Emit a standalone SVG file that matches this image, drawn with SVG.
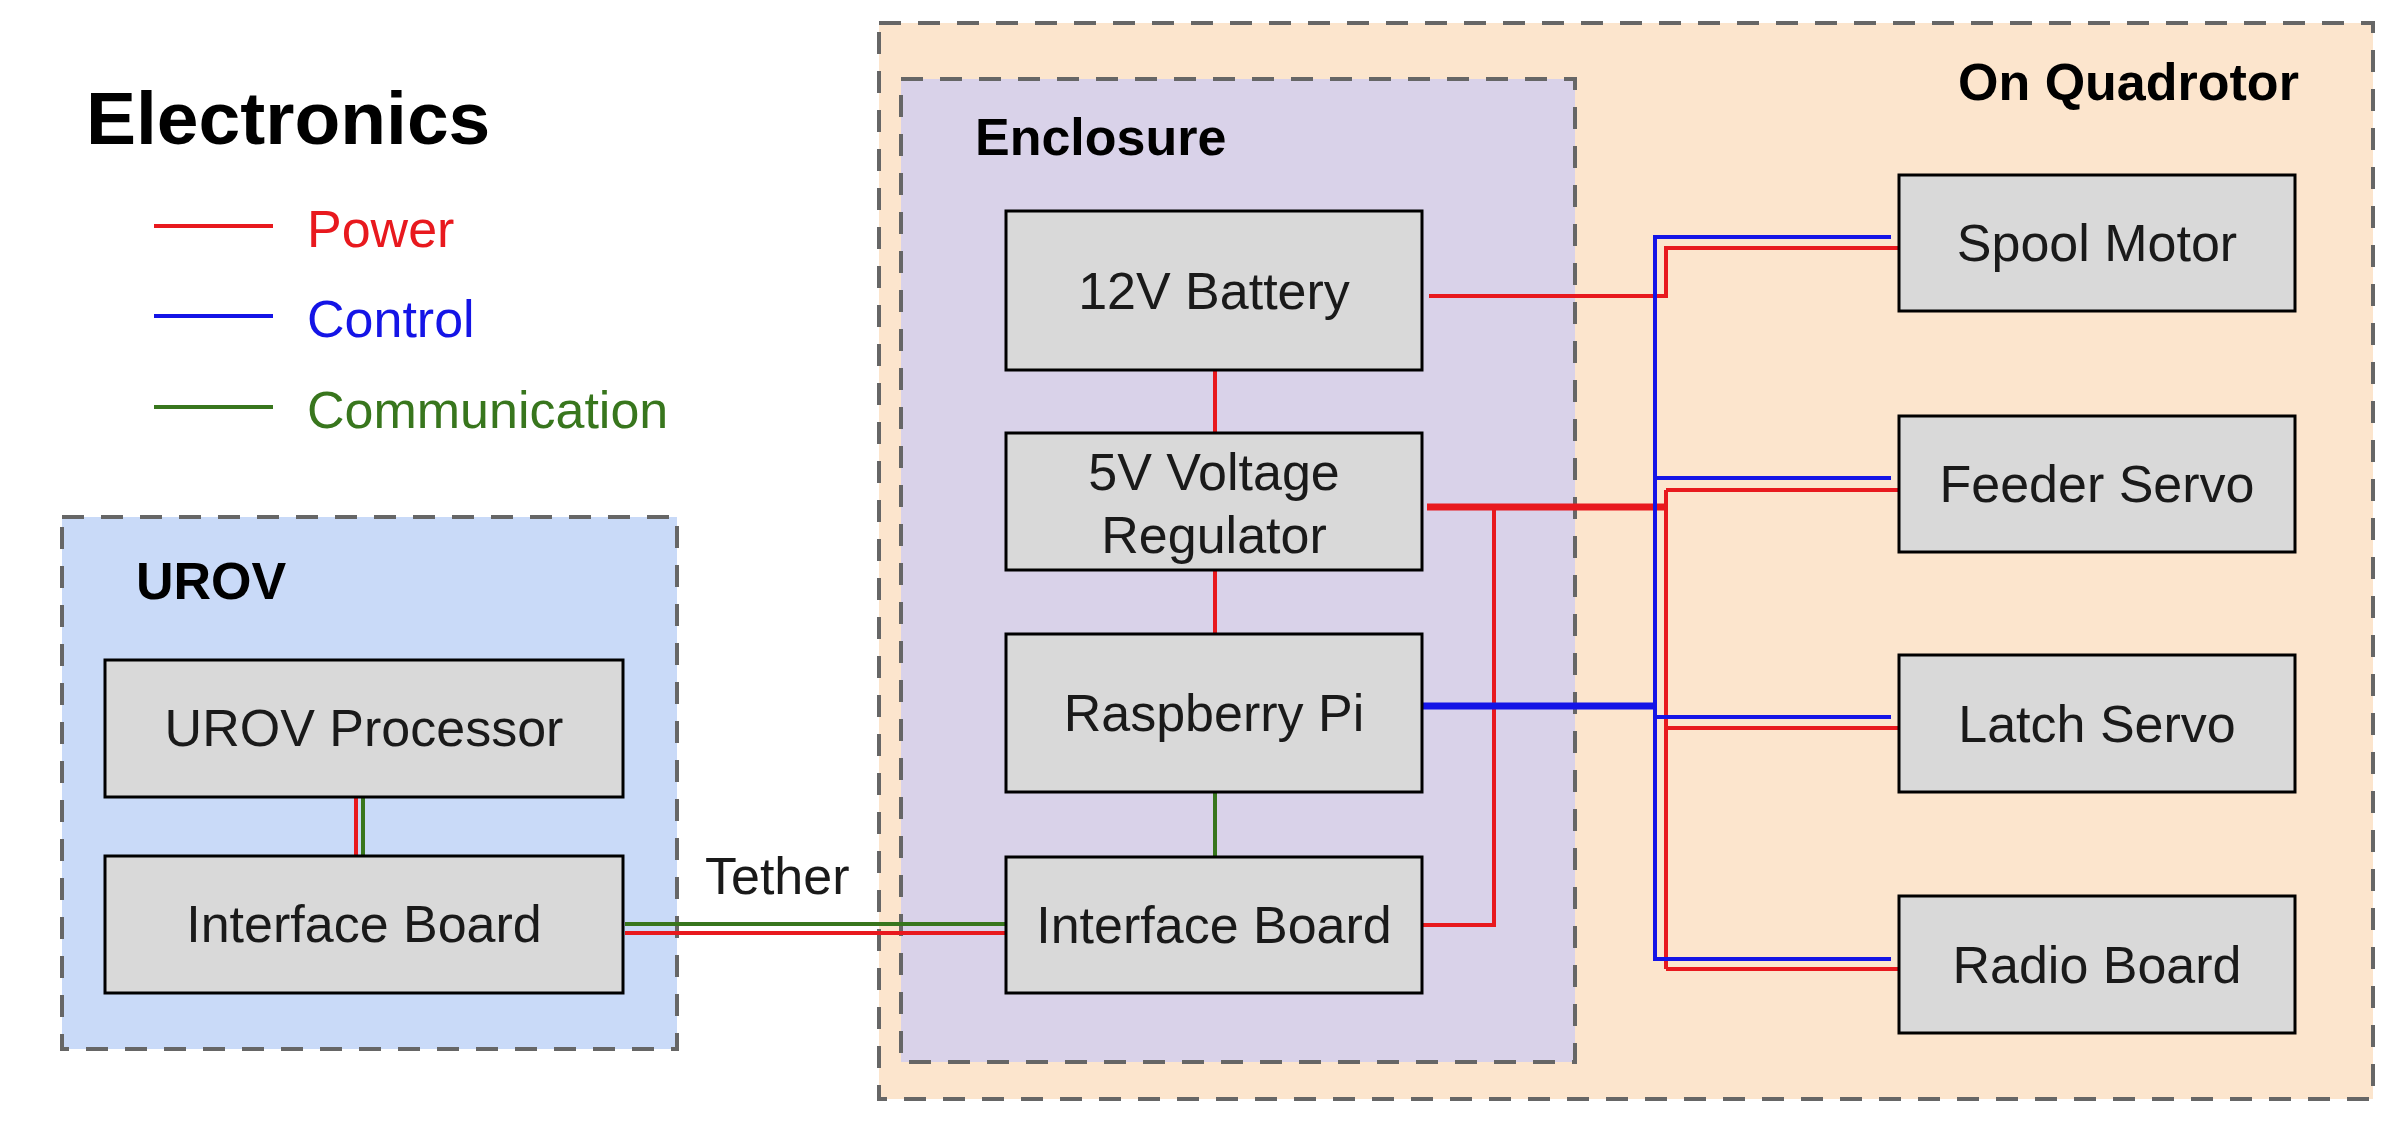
<svg xmlns="http://www.w3.org/2000/svg" width="2381" height="1123" viewBox="0 0 2381 1123">
<style>
.grp{stroke:#666666;stroke-width:4;stroke-dasharray:22 17}
.title{font-family:"Liberation Sans",Arial,sans-serif;font-weight:bold;font-size:52px;fill:#000}
.node rect{fill:#d9d9d9;stroke:#000;stroke-width:3}
.node text,.lbl{font-family:"Liberation Sans",Arial,sans-serif;font-size:52px;fill:#1a1a1a}
.node text{text-anchor:middle}
.pw{stroke:#e8191e;fill:none;stroke-width:4}
.ct{stroke:#1414e6;fill:none;stroke-width:4}
.cm{stroke:#38761d;fill:none;stroke-width:4}
.thick{stroke-width:7}
</style>
<rect width="2381" height="1123" fill="#ffffff"/>

<g id="legend">
<text x="86" y="144" class="title" style="font-size:75px">Electronics</text>
<line x1="154" y1="226" x2="273" y2="226" class="pw"/>
<text x="307" y="247" class="lbl" style="fill:#e8191e">Power</text>
<line x1="154" y1="316" x2="273" y2="316" class="ct"/>
<text x="307" y="337" class="lbl" style="fill:#1414e6">Control</text>
<line x1="154" y1="407" x2="273" y2="407" class="cm"/>
<text x="307" y="428" class="lbl" style="fill:#38761d">Communication</text>
</g>

<g id="quadrotor">
<rect x="879" y="23" width="1494" height="1076" fill="#fce5cd" class="grp"/>
<text x="1958" y="100" class="title">On Quadrotor</text>
</g>
<g id="enclosure">
<rect x="901" y="79" width="674" height="983" fill="#d9d2e9" class="grp"/>
<text x="975" y="155" class="title">Enclosure</text>
</g>
<g id="urov">
<rect x="62" y="517" width="615" height="532" fill="#c9daf8" class="grp"/>
<text x="136" y="599" class="title">UROV</text>
</g>

<g id="connectors">
<line x1="1215" y1="362" x2="1215" y2="436" class="pw"/>
<line x1="1215" y1="568" x2="1215" y2="640" class="pw"/>
<line x1="1215" y1="792" x2="1215" y2="857" class="cm"/>
<path d="M1429,296 H1666 V248 H1903" class="pw"/>
<path d="M1427,507 H1666" class="pw thick"/>
<path d="M1666,490 V969" class="pw"/>
<path d="M1666,490 H1903 M1666,728 H1903 M1666,969 H1903" class="pw"/>
<path d="M1423,925 H1494 V507" class="pw"/>
<path d="M1417,706 H1655" class="ct thick"/>
<path d="M1891,237 H1655 V959 H1891 M1655,478 H1891 M1655,717 H1891" class="ct"/>
<line x1="625" y1="924" x2="1006" y2="924" class="cm"/>
<line x1="625" y1="933" x2="1006" y2="933" class="pw"/>
<line x1="356" y1="797" x2="356" y2="856" class="pw"/>
<line x1="363" y1="797" x2="363" y2="856" class="cm"/>
</g>

<g id="battery" class="node"><rect x="1006" y="211" width="416" height="159"/><text x="1214" y="309">12V Battery</text></g>
<g id="regulator" class="node"><rect x="1006" y="433" width="416" height="137"/><text x="1214" y="490">5V Voltage</text><text x="1214" y="553">Regulator</text></g>
<g id="raspberry-pi" class="node"><rect x="1006" y="634" width="416" height="158"/><text x="1214" y="731">Raspberry Pi</text></g>
<g id="interface-enc" class="node"><rect x="1006" y="857" width="416" height="136"/><text x="1214" y="943">Interface Board</text></g>
<g id="urov-processor" class="node"><rect x="105" y="660" width="518" height="137"/><text x="364" y="746">UROV Processor</text></g>
<g id="interface-urov" class="node"><rect x="105" y="856" width="518" height="137"/><text x="364" y="942">Interface Board</text></g>
<g id="spool-motor" class="node"><rect x="1899" y="175" width="396" height="136"/><text x="2097" y="261">Spool Motor</text></g>
<g id="feeder-servo" class="node"><rect x="1899" y="416" width="396" height="136"/><text x="2097" y="502">Feeder Servo</text></g>
<g id="latch-servo" class="node"><rect x="1899" y="655" width="396" height="137"/><text x="2097" y="742">Latch Servo</text></g>
<g id="radio-board" class="node"><rect x="1899" y="896" width="396" height="137"/><text x="2097" y="983">Radio Board</text></g>

<text x="705" y="894" class="lbl">Tether</text>
</svg>
